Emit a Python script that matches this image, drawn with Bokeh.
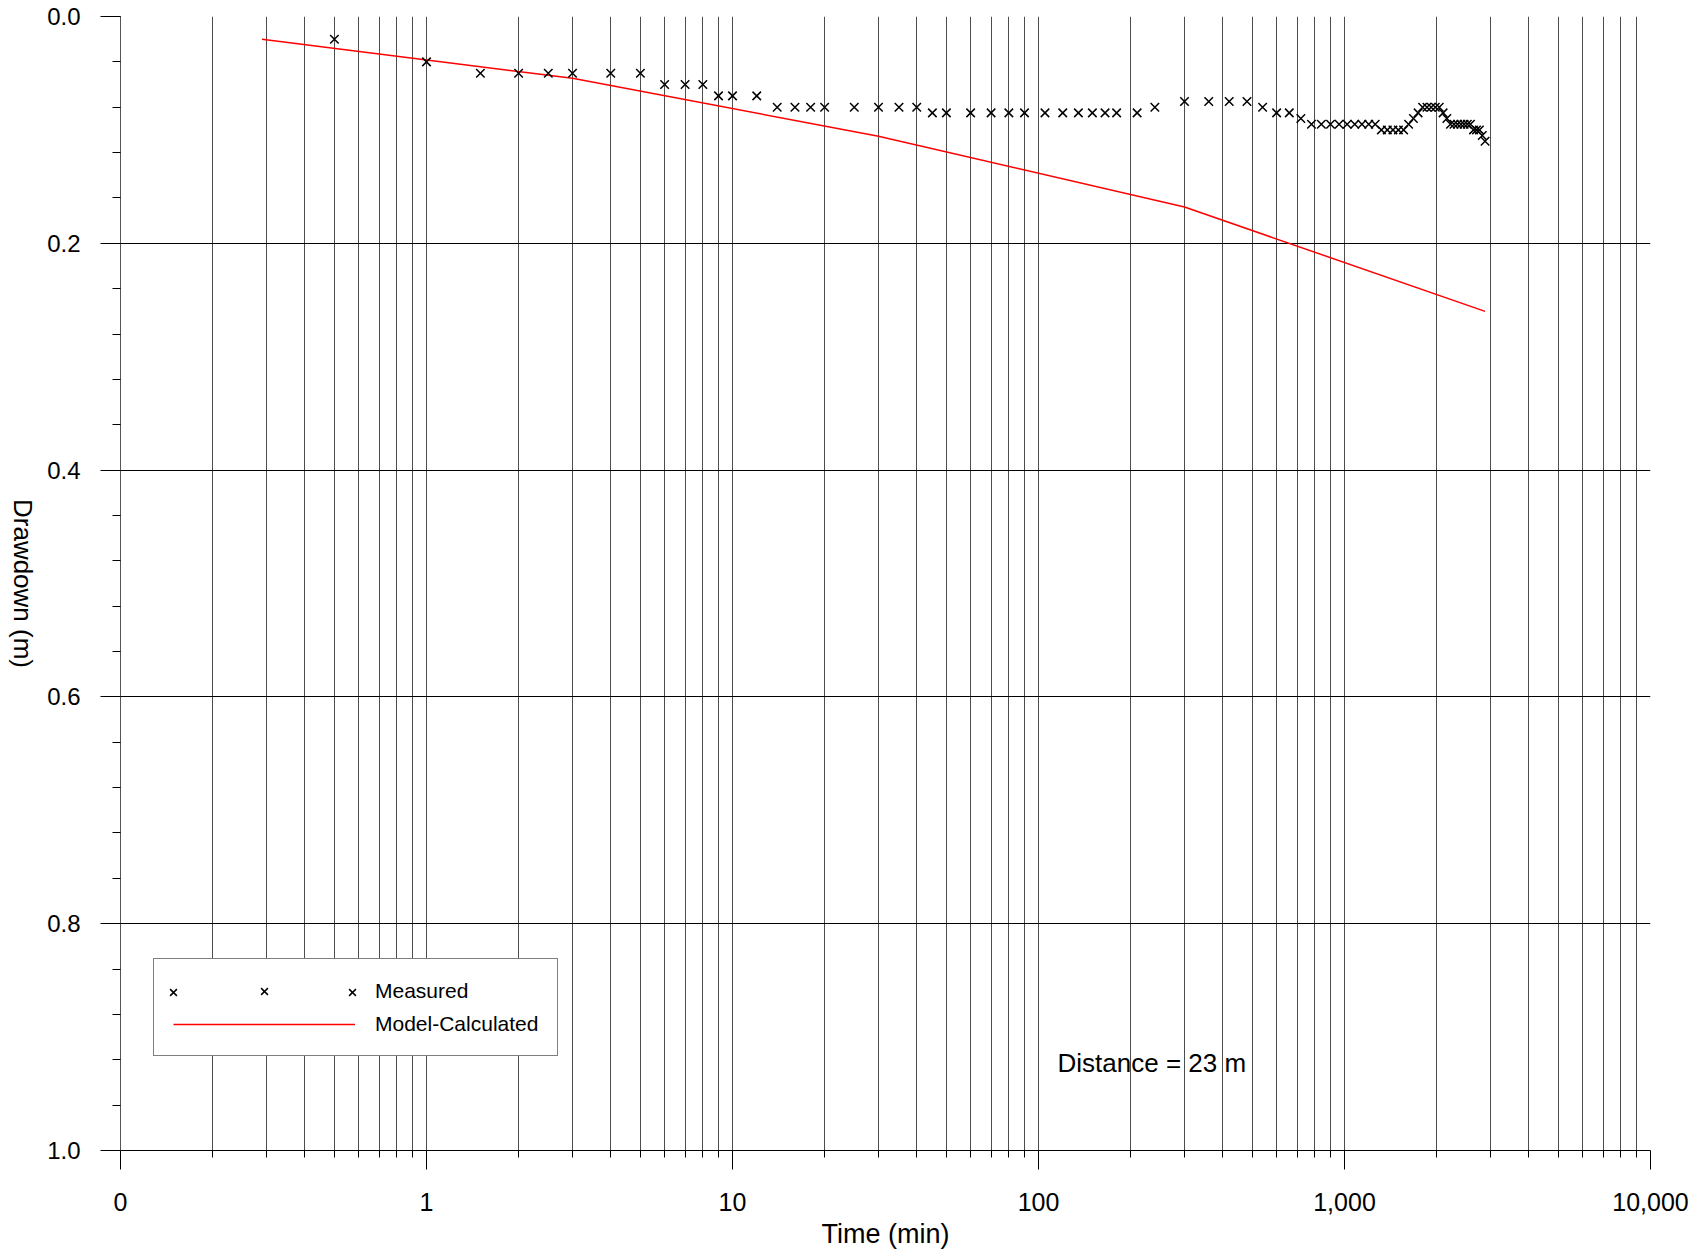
import math
from bokeh.plotting import figure
from bokeh.layouts import row
from bokeh.models import (Range1d, FixedTicker, NumeralTickFormatter, Legend,
                          LegendItem, Label)
from bokeh.embed import file_html
from bokeh.resources import INLINE

# Measured drawdown at the observation well (time in minutes, drawdown in m)
time_meas = [0.5, 1, 1.5, 2, 2.5, 3, 4, 5, 6, 7, 8, 9, 10, 12, 14, 16, 18, 20,
             25, 30, 35, 40, 45, 50, 60, 70, 80, 90, 105, 120, 135, 150, 165,
             180, 210, 240, 300, 360, 420, 480, 540, 600, 660, 720, 780, 840,
             900, 960, 1020, 1080, 1140, 1200, 1260, 1320, 1380, 1440, 1500,
             1560, 1620, 1680, 1740, 1800, 1860, 1920, 1980, 2040, 2100, 2160,
             2220, 2280, 2340, 2400, 2460, 2520, 2580, 2640, 2700, 2760, 2820,
             2880]
drawdown_meas = [0.02, 0.04, 0.05, 0.05, 0.05, 0.05, 0.05, 0.05, 0.06, 0.06,
                 0.06, 0.07, 0.07, 0.07, 0.08, 0.08, 0.08, 0.08, 0.08, 0.08,
                 0.08, 0.08, 0.085, 0.085, 0.085, 0.085, 0.085, 0.085, 0.085,
                 0.085, 0.085, 0.085, 0.085, 0.085, 0.085, 0.08, 0.075, 0.075,
                 0.075, 0.075, 0.08, 0.085, 0.085, 0.09, 0.095, 0.095, 0.095,
                 0.095, 0.095, 0.095, 0.095, 0.095, 0.095, 0.10, 0.10, 0.10,
                 0.10, 0.10, 0.095, 0.09, 0.085, 0.08, 0.08, 0.08, 0.08, 0.08,
                 0.085, 0.09, 0.095, 0.095, 0.095, 0.095, 0.095, 0.095, 0.095,
                 0.10, 0.10, 0.10, 0.105, 0.11]

# Model-calculated drawdown
time_model = [0.29, 3, 30, 300, 2880]
drawdown_model = [0.020, 0.0545, 0.1056, 0.168, 0.26]

# Axis ticks
x_major = [0.1, 1, 10, 100, 1000, 10000]
x_minor = [m * d for d in [0.1, 1, 10, 100, 1000] for m in range(2, 10)]
y_major = [0.0, 0.2, 0.4, 0.6, 0.8, 1.0]
y_minor = [round(i * 0.04, 2) for i in range(26)]

FONT = "Liberation Sans"
TITLE_W = 40  # strip holding the vertical y-axis title

p = figure(width=1708 - TITLE_W, height=1255, x_axis_type="log",
           x_range=Range1d(0.1, 10000), y_range=Range1d(1.0, 0.0),
           output_backend="svg", toolbar_location=None,
           min_border_left=120 - TITLE_W, min_border_right=58,
           min_border_top=16, min_border_bottom=105)
p.outline_line_color = None
p.background_fill_color = "white"
p.border_fill_color = "white"

# x axis
xa = p.xaxis[0]
xa.ticker = FixedTicker(ticks=x_major, minor_ticks=x_minor)
xa.formatter = NumeralTickFormatter(format="0,0")
xa.axis_label = "Time (min)"
xa.axis_label_text_font = FONT
xa.axis_label_text_font_size = "27px"
xa.axis_label_text_font_style = "normal"
xa.axis_label_text_color = "black"
xa.axis_label_standoff = 5
xa.major_label_text_font = FONT
xa.major_label_text_font_size = "25px"
xa.major_label_text_color = "black"
xa.major_label_standoff = 23
xa.major_tick_out = 19
xa.major_tick_in = 0
xa.minor_tick_out = 7
xa.minor_tick_in = 0
xa.axis_line_color = "black"
xa.major_tick_line_color = "black"
xa.minor_tick_line_color = "black"

# y axis
ya = p.yaxis[0]
ya.ticker = FixedTicker(ticks=y_major, minor_ticks=y_minor)
ya.formatter = NumeralTickFormatter(format="0.0")
ya.major_label_text_font = FONT
ya.major_label_text_font_size = "24px"
ya.major_label_text_color = "black"
ya.major_label_standoff = 20
ya.major_tick_out = 20
ya.major_tick_in = 0
ya.minor_tick_out = 8
ya.minor_tick_in = 0
ya.axis_line_color = "#555555"
ya.major_tick_line_color = "black"
ya.minor_tick_line_color = "black"

# grids
p.xgrid.grid_line_color = "#4d4d4d"
p.xgrid.minor_grid_line_color = "#4d4d4d"
p.xgrid.grid_line_width = 1
p.ygrid.grid_line_color = "black"
p.ygrid.grid_line_width = 1

# data
r_model = p.line(time_model, drawdown_model, line_color="#ff0000", line_width=1.5)
r_meas = p.scatter(time_meas, drawdown_meas, marker="x", size=12,
                   line_color="black", line_width=1.5)

legend = Legend(items=[LegendItem(label="Measured", renderers=[r_meas]),
                       LegendItem(label="Model-Calculated", renderers=[r_model])],
                location=(33, 94), orientation="vertical",
                glyph_width=182, glyph_height=24, label_height=25,
                label_standoff=20, spacing=8, padding=19, margin=0,
                label_text_font=FONT, label_text_font_size="21px",
                label_text_color="black",
                border_line_color="black", border_line_width=1,
                background_fill_color="white", background_fill_alpha=1.0)
p.add_layout(legend)

# extra marker samples on the "Measured" legend row
for vx in (41, 220):
    extra = Legend(items=[LegendItem(label=" ", renderers=[r_meas])],
                   location=(vx, 146), glyph_width=24, glyph_height=24,
                   label_height=24, label_width=0, label_standoff=0,
                   padding=0, margin=0, spacing=0,
                   label_text_font_size="1px",
                   border_line_color=None, background_fill_alpha=0.0)
    p.add_layout(extra)

p.add_layout(Label(x=937, y=88, x_units="screen", y_units="screen",
                   text="Distance = 23 m", text_font=FONT,
                   text_font_size="26px", text_color="black",
                   text_baseline="alphabetic"))

# vertical y-axis title, reading downward (its frame lines up with the plot's)
side = figure(width=TITLE_W, height=1255, x_range=Range1d(0, 1),
              y_range=Range1d(0, 1), output_backend="svg",
              toolbar_location=None, x_axis_location=None,
              y_axis_location=None, min_border=0)
side.outline_line_color = None
side.grid.visible = False
side.background_fill_color = "white"
side.border_fill_color = "white"
side.add_layout(Label(x=22, y=567, x_units="screen", y_units="screen",
                      text="Drawdown (m)", angle=-math.pi / 2,
                      angle_units="rad", text_font=FONT,
                      text_font_size="26px", text_color="black",
                      text_align="center", text_baseline="middle"))

layout = row(side, p, spacing=0)
open("out.html", "w").write(file_html(layout, INLINE))
